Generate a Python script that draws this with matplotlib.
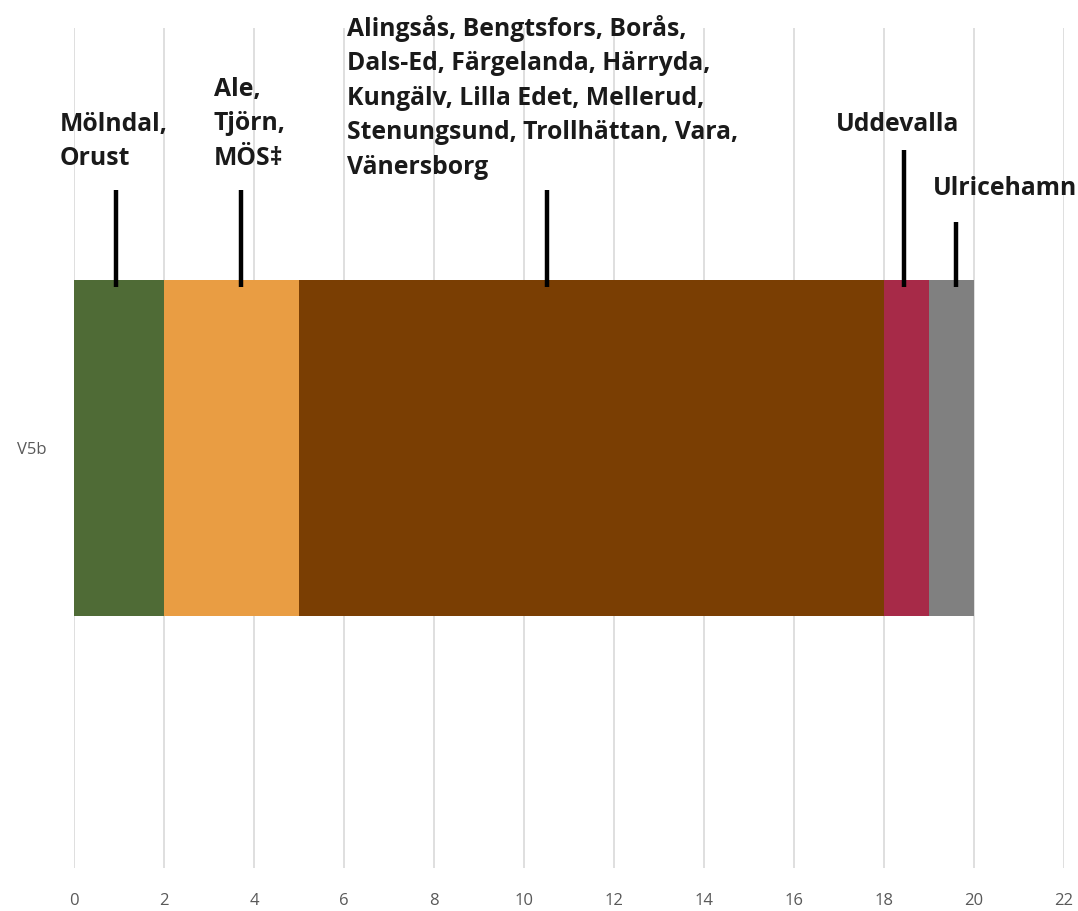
import matplotlib
matplotlib.use("Agg")
import matplotlib.pyplot as plt
import matplotlib.transforms as mtransforms

category = "V5b"
segment_values = [2, 3, 13, 1, 1]
segment_colors = ["#4f6b36", "#e99d43", "#7a3e03", "#a72a48", "#808080"]
segment_labels = [
    "Mölndal,\nOrust",
    "Ale,\nTjörn,\nMÖS‡",
    "Alingsås, Bengtsfors, Borås,\nDals-Ed, Färgelanda, Härryda,\nKungälv, Lilla Edet, Mellerud,\nStenungsund, Trollhättan, Vara,\nVänersborg",
    "Uddevalla",
    "Ulricehamn",
]
# positions of the pointer lines (data x) and label anchors
marker_x = [0.93, 3.7, 10.5, 18.45, 19.6]
marker_top_px = [190, 190, 190, 150, 222]
label_x = [-0.31, 3.11, 6.07, 16.93, 19.09]
label_top_px = [112, 77, 15, 112, 176]
xticks = list(range(0, 23, 2))

AX_TOP, AX_BOT = 28, 868
def px_to_axes(py):
    return (AX_BOT - py) / (AX_BOT - AX_TOP)

fig = plt.figure(figsize=(10.78, 9.11), dpi=100)
ax = fig.add_axes([74/1078, 1 - AX_BOT/911, (1064 - 74)/1078, (AX_BOT - AX_TOP)/911])

left = 0
for v, c in zip(segment_values, segment_colors):
    ax.barh(0, v, left=left, height=0.4, color=c, zorder=2)
    left += v

ax.set_xlim(0, 22)
ax.set_ylim(-0.5, 0.5)
ax.set_xticks(xticks)
ax.set_yticks([0])
ax.set_yticklabels([category])
ax.grid(axis="x", color="#d9d9d9", linewidth=1.2, zorder=0)
for s in ax.spines.values():
    s.set_visible(False)
ax.tick_params(axis="x", length=0, colors="#595959", labelsize=12, pad=18)
ax.tick_params(axis="y", length=0, colors="#595959", labelsize=12, pad=20)
for lab in ax.get_xticklabels() + ax.get_yticklabels():
    lab.set_fontfamily("Open Sans")

trans = mtransforms.blended_transform_factory(ax.transData, ax.transAxes)
bar_bottom_line = px_to_axes(287)
for mx, mt in zip(marker_x, marker_top_px):
    ax.plot([mx, mx], [bar_bottom_line, px_to_axes(mt)], transform=trans, color="black",
            linewidth=3.2, solid_capstyle="butt", zorder=3, clip_on=False)

for lx, lt, txt in zip(label_x, label_top_px, segment_labels):
    ax.text(lx, px_to_axes(lt), txt, transform=trans, ha="left", va="top",
            fontsize=17.8, fontweight="bold", family="Open Sans",
            color="#1a1a1a", linespacing=1.5, clip_on=False)

fig.savefig("out.png", dpi=100)
